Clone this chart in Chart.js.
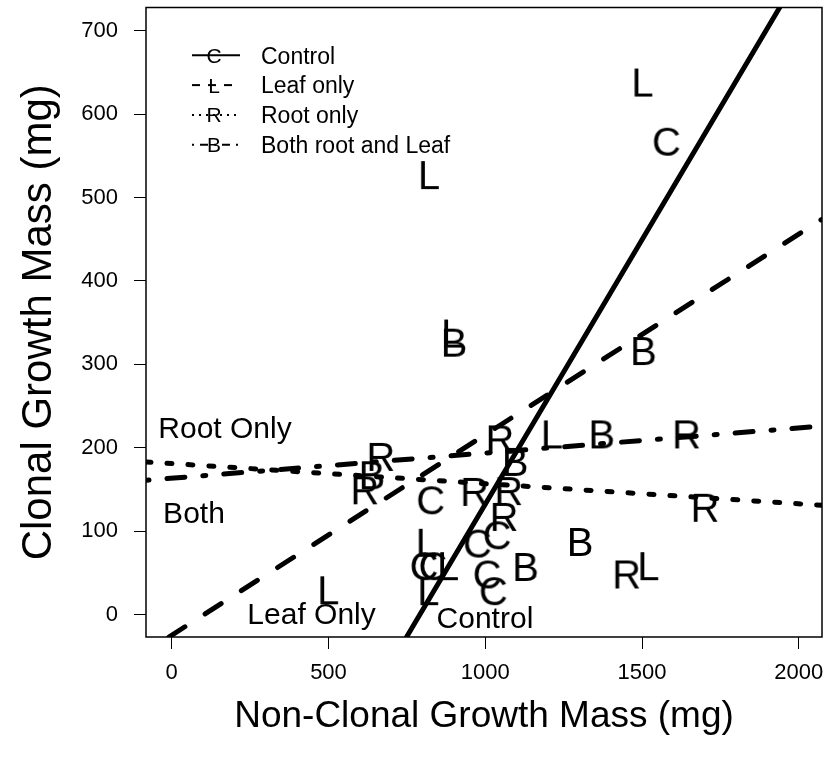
<!DOCTYPE html>
<html>
<head>
<meta charset="utf-8">
<script src="https://cdn.jsdelivr.net/npm/chart.js@4.4.1/dist/chart.umd.min.js"></script>
<style>
html,body{margin:0;padding:0;background:#fff;}
#wrap{width:828px;height:770px;}
</style>
</head>
<body>
<div id="wrap"><canvas id="c" width="828" height="770"></canvas></div>
<script>
// ---------- data ----------
const seriesNames   = ['Control', 'Leaf only', 'Root only', 'Both root and Leaf'];
const seriesLetters = ['C', 'L', 'R', 'B'];

const controlX = [1578, 826, 805, 833, 975, 1038, 1006, 1026];
const controlY = [567, 137, 58, 58, 85, 95, 48, 28];

const leafX = [1501, 820, 894, 1212, 813, 881, 818, 1520, 499];
const leafY = [638, 527, 337, 216, 86, 58, 28, 58, 29];

const rootX = [1047, 1642, 667, 616, 966, 1075, 1060, 1701, 1451];
const rootY = [210, 216, 189, 149, 147, 148, 117, 128, 48];

const bothX = [1504, 900, 1371, 1095, 638, 1302, 1128];
const bothY = [316, 326, 216, 183, 167, 87, 57];

// fitted lines: the two points where each line meets the plot frame
const controlLineX = [749, 1939];
const controlLineY = [-27, 728];
const leafLineX = [-9, 2074];
const leafLineY = [-27, 474];
const rootLineX = [-82, 2074];
const rootLineY = [183, 131];
const bothLineX = [-82, 2074];
const bothLineY = [161, 226];

const xTicks = [0, 500, 1000, 1500, 2000];
const yTicks = [0, 100, 200, 300, 400, 500, 600, 700];

const noteText = ['Root Only', 'Both', 'Leaf Only', 'Control'];
const noteX = [170, 71, 446, 999];
const noteY = [225, 123, 2, -3];

// ---------- drawing ----------
const FONT = '"Liberation Sans", Arial, Helvetica, sans-serif';
Chart.defaults.font.family = FONT;
Chart.defaults.color = '#000';

const PLOT = {left: 146, right: 822, top: 7.5, bottom: 637};

function letterCanvas(ch, size) {
  const c = document.createElement('canvas');
  const w = Math.round(size * 1.0), h = Math.round(size * 1.1);
  c.width = w; c.height = h;
  const g = c.getContext('2d');
  g.font = size + 'px ' + FONT;
  g.fillStyle = '#000';
  g.textAlign = 'center';
  g.textBaseline = 'alphabetic';
  g.fillText(ch, w / 2, h / 2 + size * 0.716 / 2);
  return c;
}

function pts(xs, ys) { return xs.map((x, i) => ({x: x, y: ys[i]})); }

const pointSets = [[controlX, controlY], [leafX, leafY], [rootX, rootY], [bothX, bothY]];
const lineSets = [[controlLineX, controlLineY], [leafLineX, leafLineY], [rootLineX, rootLineY], [bothLineX, bothLineY]];
const lineDashes = [[], [19, 24], [5, 16], [3, 18, 18, 18]];
const legendDashes = [[], [8, 8], [2, 5], [2, 6, 8, 6]];

function buildDatasets() {
  const ds = [];
  lineSets.forEach((ls, i) => {
    ds.push({
      label: seriesNames[i] + ' fit',
      data: pts(ls[0], ls[1]),
      showLine: true,
      borderColor: '#000',
      borderWidth: 5,
      borderDash: lineDashes[i],
      borderCapStyle: 'round',
      pointRadius: 0,
      clip: 0,
      fill: false
    });
  });
  pointSets.forEach((ps, i) => {
    ds.push({
      label: seriesNames[i],
      data: pts(ps[0], ps[1]),
      showLine: false,
      pointStyle: letterCanvas(seriesLetters[i], 40),
      pointRadius: 10,
      borderColor: '#000',
      backgroundColor: '#000'
    });
  });
  return ds;
}

const fixArea = {
  id: 'fixArea',
  afterLayout(chart) {
    const a = chart.chartArea;
    a.left = PLOT.left; a.right = PLOT.right; a.top = PLOT.top; a.bottom = PLOT.bottom;
    a.width = PLOT.right - PLOT.left; a.height = PLOT.bottom - PLOT.top;
    const xs = chart.scales.x, ys = chart.scales.y;
    xs.left = PLOT.left; xs.right = PLOT.right; xs.width = a.width; xs.top = PLOT.bottom;
    xs.configure();
    ys.top = PLOT.top; ys.bottom = PLOT.bottom; ys.height = a.height; ys.right = PLOT.left;
    ys.configure();
  }
};

const extras = {
  id: 'extras',
  afterDraw(chart) {
    const {ctx, chartArea: a, scales} = chart;
    const xs = scales.x, ys = scales.y;
    ctx.save();
    // frame
    ctx.strokeStyle = '#000';
    ctx.lineWidth = 1.5;
    ctx.setLineDash([]);
    ctx.strokeRect(a.left, a.top, a.right - a.left, a.bottom - a.top);

    // y axis title, centred on the plot region
    ctx.save();
    ctx.translate(51, (a.top + a.bottom) / 2);
    ctx.rotate(-Math.PI / 2);
    ctx.font = '42px ' + FONT;
    ctx.fillStyle = '#000';
    ctx.textAlign = 'center';
    ctx.textBaseline = 'alphabetic';
    ctx.fillText('Clonal Growth Mass (mg)', 0, 0);
    ctx.restore();

    // in-plot notes
    ctx.font = '30px ' + FONT;
    ctx.fillStyle = '#000';
    ctx.textAlign = 'center';
    ctx.textBaseline = 'alphabetic';
    noteText.forEach((t, i) => {
      const px = xs.getPixelForValue(noteX[i]);
      const py = ys.getPixelForValue(noteY[i]);
      ctx.fillText(t, px, py + 30 * 0.716 / 2);
    });

    // legend
    const lx0 = a.left + 46, lx1 = a.left + 94, lxm = a.left + 68, tx = a.left + 115;
    seriesNames.forEach((name, i) => {
      const yy = a.top + 47.8 + i * 29.8;
      ctx.lineWidth = 2;
      ctx.lineCap = 'butt';
      ctx.setLineDash(legendDashes[i]);
      ctx.beginPath();
      ctx.moveTo(lx0, yy);
      ctx.lineTo(lx1, yy);
      ctx.stroke();
      ctx.setLineDash([]);
      ctx.font = '21px ' + FONT;
      ctx.textAlign = 'center';
      ctx.fillText(seriesLetters[i], lxm, yy + 21 * 0.716 / 2);
      ctx.font = '23px ' + FONT;
      ctx.textAlign = 'left';
      ctx.fillText(name, tx, yy + 23 * 0.716 / 2);
    });
    ctx.restore();
  }
};

new Chart(document.getElementById('c'), {
  type: 'scatter',
  data: {datasets: buildDatasets()},
  options: {
    responsive: false,
    animation: false,
    devicePixelRatio: 1,
    layout: {padding: {top: 5, right: 0, left: 0, bottom: 0}},
    plugins: {legend: {display: false}, tooltip: {enabled: false}},
    scales: {
      x: {
        type: 'linear',
        min: -82, max: 2074,
        afterBuildTicks: s => { s.ticks = xTicks.map(v => ({value: v})); },
        afterFit: s => { s.height = 133; s.paddingLeft = 0; s.paddingRight = 0; },
        grid: {display: true, drawOnChartArea: false, drawTicks: true, tickLength: 12, tickColor: '#000', tickWidth: 1},
        border: {display: false},
        ticks: {font: {size: 22}, color: '#000', padding: 11, maxRotation: 0, autoSkip: false,
                callback: v => String(v)},
        title: {display: true, text: 'Non-Clonal Growth Mass (mg)', font: {size: 37}, color: '#000',
                padding: {top: 0, bottom: 31}}
      },
      y: {
        type: 'linear',
        min: -27, max: 728,
        afterBuildTicks: s => { s.ticks = yTicks.map(v => ({value: v})); },
        afterFit: s => { s.width = 146; s.paddingTop = 0; s.paddingBottom = 0; },
        grid: {display: true, drawOnChartArea: false, drawTicks: true, tickLength: 12, tickColor: '#000', tickWidth: 1},
        border: {display: false},
        ticks: {font: {size: 22}, color: '#000', padding: 16, autoSkip: false,
                callback: v => String(v)},
        title: {display: false}
      }
    }
  },
  plugins: [fixArea, extras]
});
</script>
</body>
</html>
